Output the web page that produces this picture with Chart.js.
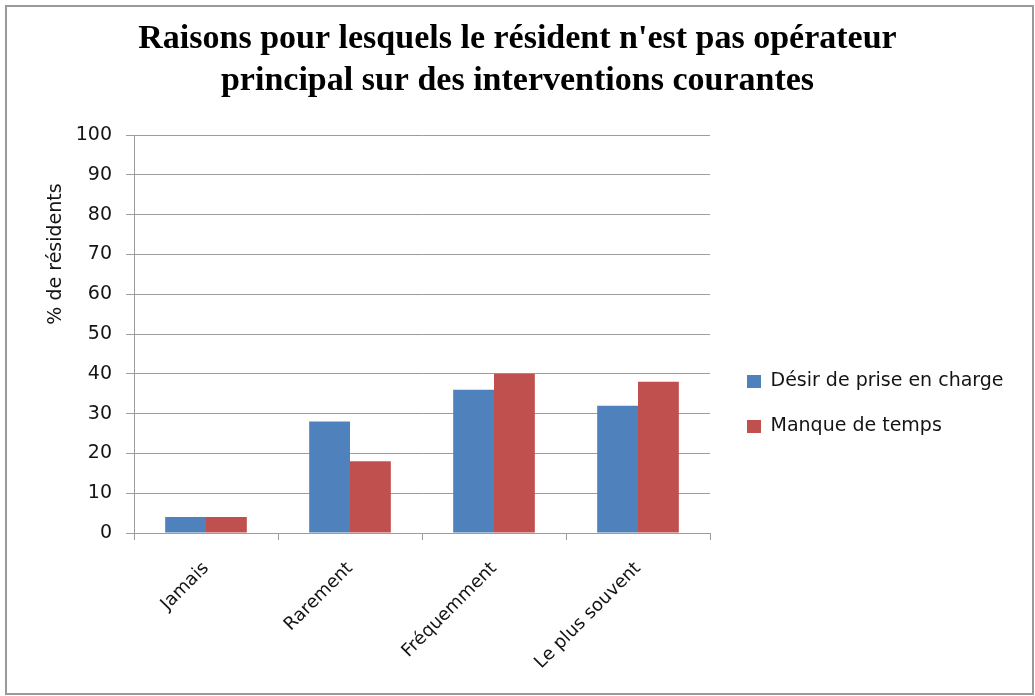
<!DOCTYPE html>
<html lang="fr">
<head>
<meta charset="utf-8">
<title>Raisons pour lesquels le résident n'est pas opérateur principal</title>
<script src="https://cdn.jsdelivr.net/npm/chart.js@4.4.1/dist/chart.umd.min.js"></script>
<style>
html,body{margin:0;padding:0;background:#fff;}
#wrap{position:relative;width:1035px;height:696px;}
#frame{position:absolute;left:5px;top:5px;width:1029px;height:690px;box-sizing:border-box;border:2px solid #9a9a9a;pointer-events:none;}
</style>
</head>
<body>
<div id="wrap">
  <canvas id="chart" width="1035" height="696"></canvas>
  <div id="frame"></div>
</div>
<script>
// Données (% de résidents)
const categories=['Jamais','Rarement','Fréquemment','Le plus souvent'];
const seriesNames=['Désir de prise en charge','Manque de temps'];
const desirPriseEnCharge=[4,28,36,32];
const manqueDeTemps=[4,18,40,38];
const yTicks=[0,10,20,30,40,50,60,70,80,90,100];

const BLUE='#4F81BD', RED='#C0504D', GRID='#9c9c9c', TXT='#141414';
const SANS='"DejaVu Sans", sans-serif';

// titre de l'axe Y, placé comme dans l'original (pas centré sur l'axe)
const yTitlePlugin={
  id:'yTitle',
  afterDraw(chart){
    const ctx=chart.ctx;
    ctx.save();
    ctx.translate(56,254);
    ctx.rotate(-Math.PI/2);
    ctx.font='19px '+SANS;
    ctx.fillStyle=TXT;
    ctx.textAlign='center';
    ctx.textBaseline='middle';
    ctx.fillText('% de résidents',0,0);
    ctx.restore();
  }
};

// recentre le titre sur toute la largeur, décale la légende
const layoutTweaks={
  id:'layoutTweaks',
  afterLayout(chart){
    const t=chart.titleBlock;
    if(t){t.left=0;t.right=chart.width;}
    const l=chart.legend;
    if(l){
      l.left+=11;l.right=chart.width;
      l.top+=56;l.bottom+=56;
    }
  }
};

new Chart(document.getElementById('chart'),{
  type:'bar',
  data:{
    labels:categories,
    datasets:[
      {label:seriesNames[0],data:desirPriseEnCharge,backgroundColor:BLUE},
      {label:seriesNames[1],data:manqueDeTemps,backgroundColor:RED}
    ]
  },
  options:{
    responsive:false,animation:false,
    layout:{padding:{left:0,right:75,top:0,bottom:0}},
    datasets:{bar:{categoryPercentage:0.567,barPercentage:1}},
    plugins:{
      title:{
        display:true,
        text:["Raisons pour lesquels le résident n'est pas opérateur","principal sur des interventions courantes"],
        font:{family:'"Liberation Serif", "Times New Roman", serif',size:34,weight:'bold',lineHeight:42/34},
        color:'#000',
        padding:{top:18,bottom:33}
      },
      legend:{
        position:'right',
        maxWidth:250,
        labels:{font:{family:SANS,size:19},color:TXT,boxWidth:14,boxHeight:13,padding:26}
      },
      tooltip:{enabled:false}
    },
    scales:{
      x:{
        grid:{drawOnChartArea:false,drawTicks:true,tickLength:7,color:GRID},
        border:{color:GRID,width:1},
        ticks:{color:TXT,font:{family:SANS,size:18},maxRotation:45,minRotation:45,padding:18},
        afterFit(s){s.height=163;}
      },
      y:{
        min:0,max:100,
        grid:{color:GRID,tickLength:8,lineWidth:1},
        border:{color:GRID,width:1},
        afterBuildTicks(s){s.ticks=yTicks.map(v=>({value:v}));},
        ticks:{color:TXT,font:{family:SANS,size:19},padding:14},
        afterFit(s){s.width=134;}
      }
    }
  },
  plugins:[yTitlePlugin,layoutTweaks]
});
</script>
</body>
</html>
